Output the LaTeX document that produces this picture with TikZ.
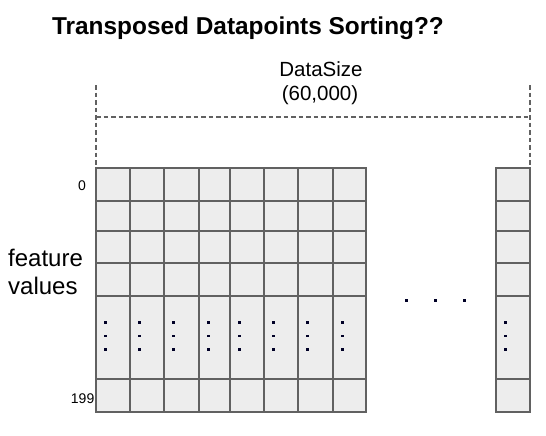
\documentclass[tikz,border=0pt]{standalone}
\usepackage{fontspec}
\setmainfont{Liberation Sans}
\begin{document}
\begin{tikzpicture}[x=1pt,y=-1pt,
  cellbox/.style={draw=black!62,fill=black!7,line width=1.2pt},
  guide/.style={draw=black!62,line width=1.1pt,dash pattern=on 4.5pt off 3pt},
  dotmark/.style={fill=black!85!blue,minimum size=2.4pt,inner sep=0pt,draw=none},
  lbl/.style={inner sep=0pt,anchor=base}]
\useasboundingbox (0,0) rectangle (546,436);
% title
\node[lbl,font=\bfseries\fontsize{24.4}{28}\selectfont] (title) at (248,35) {Transposed Datapoints Sorting??};
% data size label
\node[lbl,font=\fontsize{20.5}{24}\selectfont] (ds1) at (321,76.5) {DataSize};
\node[lbl,font=\fontsize{20.5}{24}\selectfont] (ds2) at (320,100) {(60,000)};
% dashed bracket
\coordinate (bl) at (96,85);
\coordinate (br) at (530,85);
\coordinate (blb) at (96,168);
\coordinate (brb) at (530,168);
\coordinate (hl) at (96,117);
\coordinate (hr) at (530,117);
\draw[guide] (bl) -- (blb);
\draw[guide] (br) -- (brb);
\draw[guide] (hl) -- (hr);
% feature values
\node[lbl,font=\fontsize{24}{28}\selectfont,anchor=base west] (fv1) at (8,266) {feature};
\node[lbl,font=\fontsize{24}{28}\selectfont,anchor=base west] (fv2) at (8,294) {values};
\node[lbl,font=\fontsize{14}{16}\selectfont,anchor=base east] (i0) at (86,190) {0};
\node[lbl,font=\fontsize{14}{16}\selectfont,anchor=base east] (i199) at (94.5,403.5) {199};
% grid
\foreach \xa/\xb [count=\c] in {96/130,130/164,164/199,199/230,230/264,264/298,298/333,333/366,496/530}{
  \foreach \ya/\yb [count=\r] in {168/201,201/231,231/263,263/296,296/379,379/412}{
    \draw[cellbox] (\xa,\ya) rectangle (\xb,\yb);
  }
  \node[dotmark] (d\c a) at (\xa+9.5,322.5) {};
  \node[dotmark] (d\c b) at (\xa+9.5,336) {};
  \node[dotmark] (d\c c) at (\xa+9.5,349.5) {};
}
% horizontal ellipsis
\node[dotmark] (e1) at (406.5,300.5) {};
\node[dotmark] (e2) at (435.5,300.5) {};
\node[dotmark] (e3) at (464.5,300.5) {};
\end{tikzpicture}
\end{document}
